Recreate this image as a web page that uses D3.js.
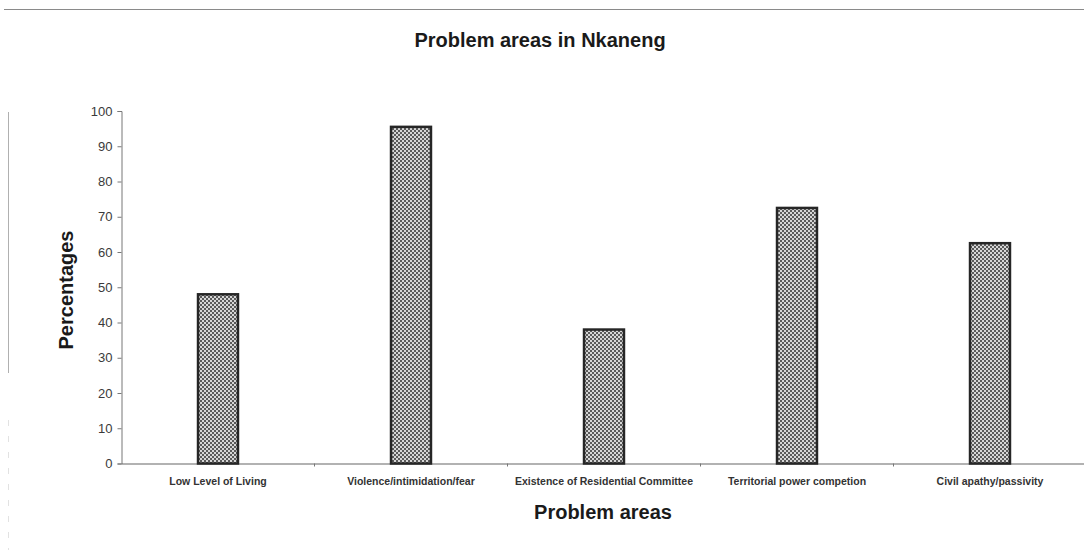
<!DOCTYPE html>
<html>
<head>
<meta charset="utf-8">
<script src="https://cdn.jsdelivr.net/npm/d3@7"></script>
<style>
  html, body { margin: 0; padding: 0; background: #fff; }
  svg { display: block; font-family: Arial, "Liberation Sans", sans-serif; }
</style>
</head>
<body>
<svg id="chart" width="1084" height="550"></svg>
<script>
// Problem areas reported in Nkaneng (percent of respondents)
const categories = [
  "Low Level of Living",
  "Violence/intimidation/fear",
  "Existence of Residential Committee",
  "Territorial power competion",
  "Civil apathy/passivity"
];
const percentages = [48, 95.5, 38, 72.5, 62.5];
const yTicks = [0, 10, 20, 30, 40, 50, 60, 70, 80, 90, 100];

const chartTitle = "Problem areas in Nkaneng";
const xTitle = "Problem areas";
const yTitle = "Percentages";

const svg = d3.select("#chart");
const W = 1084, H = 550;
const plot = { left: 121.5, right: 1086.5, top: 111, bottom: 463.5 };

// Page frame lines
svg.append("line")
  .attr("x1", 4).attr("x2", W).attr("y1", 9.5).attr("y2", 9.5)
  .attr("stroke", "#8a8a8a").attr("stroke-width", 1.2);
svg.append("line")
  .attr("x1", 8.5).attr("x2", 8.5).attr("y1", 112).attr("y2", 373)
  .attr("stroke", "#b0b0b0").attr("stroke-width", 1);
svg.append("line")
  .attr("x1", 8.5).attr("x2", 8.5).attr("y1", 420).attr("y2", 550)
  .attr("stroke", "#e2e2e2").attr("stroke-width", 1)
  .attr("stroke-dasharray", "6,10");

// Checkered fill for the bars
const defs = svg.append("defs");
const pat = defs.append("pattern")
  .attr("id", "checker")
  .attr("patternUnits", "userSpaceOnUse")
  .attr("width", 4).attr("height", 4);
pat.append("rect").attr("width", 4).attr("height", 4).attr("fill", "#d6d6d6");
pat.append("rect").attr("x", 0).attr("y", 0).attr("width", 2).attr("height", 2).attr("fill", "#5a5a5a");
pat.append("rect").attr("x", 2).attr("y", 2).attr("width", 2).attr("height", 2).attr("fill", "#5a5a5a");

const x = d3.scaleBand()
  .domain(categories)
  .range([plot.left, plot.right])
  .padding(0);

const y = d3.scaleLinear()
  .domain([0, 100])
  .range([plot.bottom, plot.top]);

// Y axis
const yAxis = svg.append("g")
  .attr("transform", `translate(${plot.left},0)`)
  .call(d3.axisLeft(y).tickValues(yTicks).tickSize(4).tickPadding(5));
yAxis.select(".domain").attr("stroke", "#777").attr("stroke-width", 1);
yAxis.selectAll(".tick line").attr("stroke", "#777");
yAxis.selectAll(".tick text")
  .attr("fill", "#3a3a3a")
  .style("font-size", "13px")
  .style("font-family", "Arial, 'Liberation Sans', sans-serif");

// X axis
const xAxis = svg.append("g")
  .attr("transform", `translate(0,${plot.bottom})`)
  .call(d3.axisBottom(x).tickSize(0).tickPadding(14));
xAxis.select(".domain").attr("stroke", "#666").attr("stroke-width", 1.2);
xAxis.selectAll(".tick text")
  .attr("fill", "#333")
  .style("font-size", "10.5px")
  .style("font-weight", "bold")
  .style("font-family", "Arial, 'Liberation Sans', sans-serif");

// Tick marks between categories
const boundaries = categories.slice(1).map(c => x(c));
xAxis.selectAll(".sep")
  .data(boundaries)
  .join("line")
  .attr("class", "sep")
  .attr("x1", d => d).attr("x2", d => d)
  .attr("y1", 0).attr("y2", 3)
  .attr("stroke", "#777");

// Bars
const barW = x.bandwidth() * 0.207;
svg.append("g")
  .selectAll("rect")
  .data(percentages)
  .join("rect")
  .attr("x", (d, i) => x(categories[i]) + x.bandwidth() / 2 - barW / 2)
  .attr("y", d => y(d))
  .attr("width", barW)
  .attr("height", d => y(0) - y(d))
  .attr("fill", "url(#checker)")
  .attr("stroke", "#262626")
  .attr("stroke-width", 2.5);

// Titles
svg.append("text")
  .attr("x", 540).attr("y", 47)
  .attr("text-anchor", "middle")
  .attr("fill", "#1a1a1a")
  .style("font-size", "20px")
  .style("font-weight", "bold")
  .text(chartTitle);

svg.append("text")
  .attr("x", (plot.left + plot.right) / 2 - 1).attr("y", 519)
  .attr("text-anchor", "middle")
  .attr("fill", "#1a1a1a")
  .style("font-size", "20px")
  .style("font-weight", "bold")
  .text(xTitle);

svg.append("text")
  .attr("transform", "translate(73,290) rotate(-90)")
  .attr("text-anchor", "middle")
  .attr("fill", "#1a1a1a")
  .style("font-size", "20px")
  .style("font-weight", "bold")
  .text(yTitle);
</script>
</body>
</html>
